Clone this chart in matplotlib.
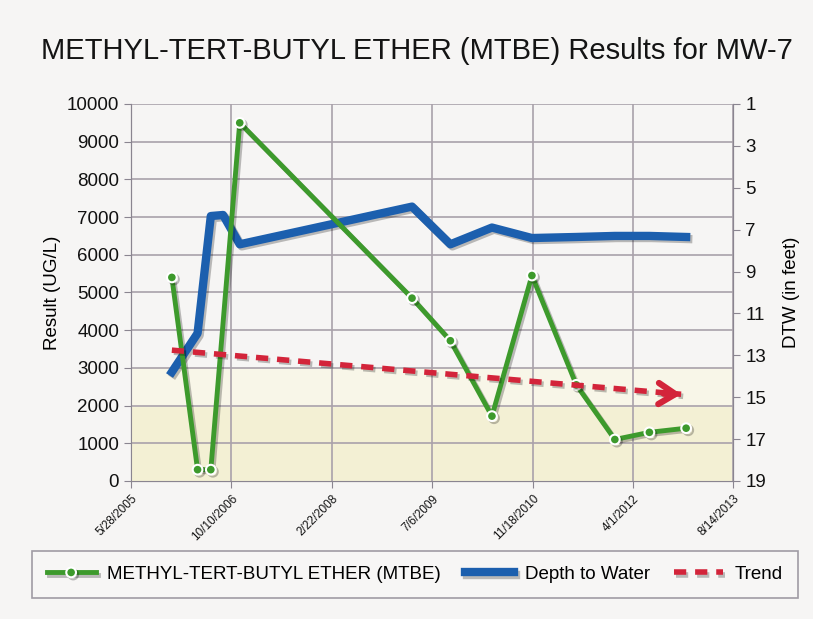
import datetime as dt
import matplotlib
matplotlib.use('Agg')
from matplotlib import pyplot as plt
import matplotlib.patheffects as pe

plt.rcParams['font.family'] = ['Liberation Sans', 'DejaVu Sans']

# MTBE results (ug/L)
mtbe_dates = ['2005-12-18', '2006-04-25', '2006-06-30', '2006-11-21', '2009-03-28',
              '2009-10-05', '2010-04-30', '2010-11-15', '2011-06-24', '2012-01-02',
              '2012-06-22', '2012-12-22']
mtbe_vals = [5400, 300, 300, 9500, 4850, 3720, 1720, 5450, 2550, 1100, 1290, 1400]

# depth to water (feet)
dtw_dates = ['2005-12-18', '2006-04-25', '2006-06-30', '2006-08-30', '2006-11-21',
             '2009-03-28', '2009-10-05', '2010-04-30', '2010-11-15', '2011-06-24',
             '2012-01-02', '2012-06-22', '2012-12-22']
dtw_vals = [13.8, 11.95, 6.35, 6.3, 7.7, 5.9, 7.7, 6.9, 7.4, 7.35, 7.3, 7.3, 7.35]

trend_dates = ['2005-12-18', '2012-11-27']
trend_vals = [3470, 2300]

tick_dates = ['2005-05-28', '2006-10-10', '2008-02-22', '2009-07-06',
              '2010-11-18', '2012-04-01', '2013-08-14']
tick_labels = ['5/28/2005', '10/10/2006', '2/22/2008', '7/6/2009',
               '11/18/2010', '4/1/2012', '8/14/2013']


def d(s):
    return dt.datetime.strptime(s, '%Y-%m-%d')


green = '#3d9a2c'
blue = '#1c5fae'
red = '#d3243a'
grid_c = '#a9a1aa'
shadow = [pe.SimpleLineShadow(offset=(1.5, -1.5), alpha=0.25), pe.Normal()]

fig = plt.figure(figsize=(8.13, 6.19), dpi=100)
fig.patch.set_facecolor('#f6f5f4')
ax = fig.add_axes([0.161, 0.223, 0.741, 0.609])
ax2 = ax.twinx()
ax2.set_facecolor('#fbfbfa')
ax.set_zorder(ax2.get_zorder() + 1)
ax.patch.set_visible(False)

ax.axhspan(0, 2000, color='#f3f0d4', zorder=0)
ax.axhspan(2000, 3000, color='#f8f6e8', zorder=0)
for t in tick_dates:
    ax.axvline(d(t), color=grid_c, lw=1.2, zorder=1)
for v in range(1000, 10001, 1000):
    ax.axhline(v, color=grid_c, lw=1.2, zorder=1)

# DTW drawn on the left axes, mapped from the inverted 1..19 ft scale
l2, = ax.plot([d(s) for s in dtw_dates],
              [(19 - v) / 18 * 10000 for v in dtw_vals], color=blue, lw=6,
              zorder=4, path_effects=shadow, label='Depth to Water')
l1, = ax.plot([d(s) for s in mtbe_dates], mtbe_vals, color=green, lw=3.5,
              marker='o', ms=7, mfc=green, mec='white', mew=1.5, zorder=5,
              path_effects=shadow, label='METHYL-TERT-BUTYL ETHER (MTBE)')
l3, = ax.plot([d(s) for s in trend_dates], trend_vals, color=red, lw=4,
              dashes=(2.2, 1.6), zorder=6, path_effects=shadow, label='Trend')
ax.annotate('', xy=(d(trend_dates[1]), trend_vals[1]),
            xytext=(d('2012-09-01'), trend_vals[1] + 15),
            arrowprops=dict(arrowstyle='->,head_length=0.6,head_width=0.38',
                            mutation_scale=20, color=red, lw=4.5,
                            shrinkA=0, shrinkB=0), zorder=6)

ax.set_xlim(d(tick_dates[0]), d(tick_dates[-1]))
ax.set_ylim(0, 10000)
ax2.set_ylim(19, 1)
ax.set_xticks([d(t) for t in tick_dates])
ax.set_xticklabels(tick_labels, rotation=45, ha='right', rotation_mode='anchor',
                   fontsize=8.5)
ax.set_yticks(range(0, 10001, 1000))
ax.set_yticklabels([str(v) for v in range(0, 10001, 1000)], fontsize=13.5)
ax2.set_yticks(range(1, 20, 2))
ax2.set_yticklabels([str(v) for v in range(1, 20, 2)], fontsize=13.5)

for a in (ax, ax2):
    for s in a.spines.values():
        s.set_color('#8a8590')
    a.tick_params(colors='#8a8590', labelcolor='#111111', length=5)
    a.spines['top'].set_visible(False)

ax.set_ylabel('Result (UG/L)', fontsize=13.5, labelpad=4)
ax2.set_ylabel('DTW (in feet)', fontsize=13.5, labelpad=12)
fig.text(0.513, 0.918, 'METHYL-TERT-BUTYL ETHER (MTBE) Results for MW-7',
         fontsize=21, ha='center', va='center', color='#141414')

leg = fig.legend(handles=[l1, l2, l3], loc='center', bbox_to_anchor=(0.51, 0.072),
                 ncol=3, fontsize=13.5, frameon=True, fancybox=False,
                 handlelength=2.6, columnspacing=1.3, borderpad=0.8,
                 handletextpad=0.6, borderaxespad=0)
leg.get_frame().set_edgecolor('#8a8590')
leg.get_frame().set_facecolor('#f8f7f6')
leg.get_frame().set_linewidth(1.2)

fig.savefig('out.png', dpi=100, facecolor=fig.get_facecolor())
